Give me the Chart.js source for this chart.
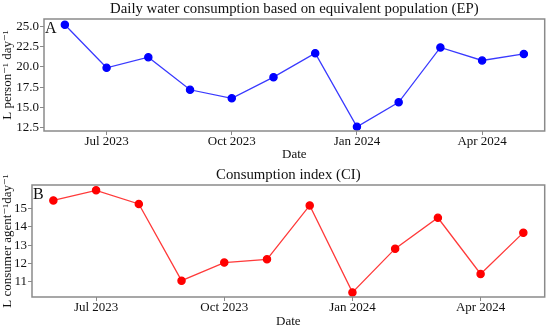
<!DOCTYPE html>
<html>
<head>
<meta charset="utf-8">
<script src="https://cdn.jsdelivr.net/npm/chart.js@4"></script>
<style>
  body { margin: 0; background: #fff; }
  .box { position: relative; width: 550px; }
</style>
</head>
<body>
<div class="box" style="height:163px"><canvas id="ep-chart"></canvas></div>
<div class="box" style="height:164px"><canvas id="ci-chart"></canvas></div>
<script>
const months = ['Jun 2023', 'Jul 2023', 'Aug 2023', 'Sep 2023', 'Oct 2023', 'Nov 2023',
                'Dec 2023', 'Jan 2024', 'Feb 2024', 'Mar 2024', 'Apr 2024', 'May 2024'];
const shownMonths = ['Jul 2023', 'Oct 2023', 'Jan 2024', 'Apr 2024'];
const epValues = [25.2, 19.9, 21.2, 17.2, 16.15, 18.75, 21.7, 12.65, 15.65, 22.4, 20.8, 21.6];
const ciValues = [15.43, 15.98, 15.24, 11.07, 12.05, 12.23, 15.16, 10.43, 12.81, 14.49, 11.43, 13.68];
const epTicks = [12.5, 15.0, 17.5, 20.0, 22.5, 25.0];
const ciTicks = [11, 12, 13, 14, 15];

const serif = "'Liberation Serif', 'DejaVu Serif', serif";

// border box, panel letter and a title centred over the plot area (ggplot style)
function panelPlugin(cfg) {
    return {
        id: 'panel' + cfg.letter,
        afterDraw(chart) {
            const { ctx, chartArea: a } = chart;
            ctx.save();
            ctx.strokeStyle = '#8a8a8a';
            ctx.lineWidth = 1.5;
            ctx.strokeRect(a.left, a.top, a.right - a.left, a.bottom - a.top);
            ctx.fillStyle = '#111';
            ctx.font = '16px ' + serif;
            ctx.textAlign = 'left';
            ctx.textBaseline = 'middle';
            ctx.fillText(cfg.letter, a.left + 1, a.top + 10);
            ctx.font = cfg.titleSize + 'px ' + serif;
            ctx.textAlign = 'center';
            ctx.fillText(cfg.title, (a.left + a.right) / 2, cfg.titleY);
            ctx.restore();
        }
    };
}

function makeChart(id, cfg) {
    const ctx = document.getElementById(id).getContext('2d');
    return new Chart(ctx, {
        type: 'line',
        data: {
            labels: months,
            datasets: [{
                data: cfg.values,
                borderColor: cfg.line,
                backgroundColor: cfg.point,
                pointBackgroundColor: cfg.point,
                pointBorderColor: cfg.point,
                pointRadius: 3.6,
                borderWidth: 1.3,
                tension: 0
            }]
        },
        options: {
            responsive: true,
            maintainAspectRatio: false,
            animation: false,
            layout: { padding: { left: 0, right: 3, top: cfg.top, bottom: 0 } },
            plugins: {
                legend: { display: false },
                tooltip: { enabled: false },
                title: { display: false }
            },
            scales: {
                x: {
                    offset: true,
                    border: { display: false },
                    grid: {
                        drawOnChartArea: false,
                        tickLength: 4,
                        color: c => shownMonths.includes(months[c.index]) ? '#8a8a8a' : 'rgba(0,0,0,0)'
                    },
                    ticks: {
                        autoSkip: false,
                        maxRotation: 0,
                        padding: 0,
                        color: '#111',
                        font: { family: serif, size: 13, lineHeight: 1 },
                        callback: function (v, i) {
                            const lab = months[i];
                            return shownMonths.includes(lab) ? lab : '';
                        }
                    },
                    title: {
                        display: true,
                        text: 'Date',
                        color: '#111',
                        font: { family: serif, size: 13, lineHeight: 1.2 },
                        padding: { top: 0, bottom: cfg.datePad }
                    },
                    afterFit: s => { s.height = cfg.xHeight; }
                },
                y: {
                    min: cfg.min,
                    max: cfg.max,
                    border: { display: false },
                    grid: { drawOnChartArea: false, tickLength: 4, color: '#8a8a8a' },
                    afterBuildTicks: s => { s.ticks = cfg.ticks.map(v => ({ value: v })); },
                    ticks: {
                        padding: 1,
                        color: '#111',
                        font: { family: serif, size: 13 },
                        callback: v => cfg.fmt(v)
                    },
                    title: {
                        display: true,
                        text: cfg.yTitle,
                        color: '#111',
                        font: { family: serif, size: 13, lineHeight: 1.2 },
                        padding: 0
                    },
                    afterFit: s => { s.width = cfg.yWidth; }
                }
            }
        },
        plugins: [panelPlugin(cfg)]
    });
}

makeChart('ep-chart', {
    values: epValues,
    ticks: epTicks,
    min: 12.13, max: 25.9,
    fmt: v => v.toFixed(1),
    line: '#3a3aff', point: '#0000ff',
    title: 'Daily water consumption based on equivalent population (EP)',
    titleSize: 14.8, titleY: 9, top: 19,
    yTitle: 'L person\u207B\u00B9 day\u207B\u00B9',
    yWidth: 44, xHeight: 32, datePad: 1,
    letter: 'A'
});

makeChart('ci-chart', {
    values: ciValues,
    ticks: ciTicks,
    min: 10.18, max: 16.27,
    fmt: v => String(v),
    line: '#ff3a3a', point: '#ff0000',
    title: 'Consumption index (CI)',
    titleSize: 14.8, titleY: 12, top: 22,
    yTitle: 'L consumer agent\u207B\u00B9day\u207B\u00B9',
    yWidth: 32, xHeight: 30, datePad: -2,
    letter: 'B'
});
</script>
</body>
</html>
